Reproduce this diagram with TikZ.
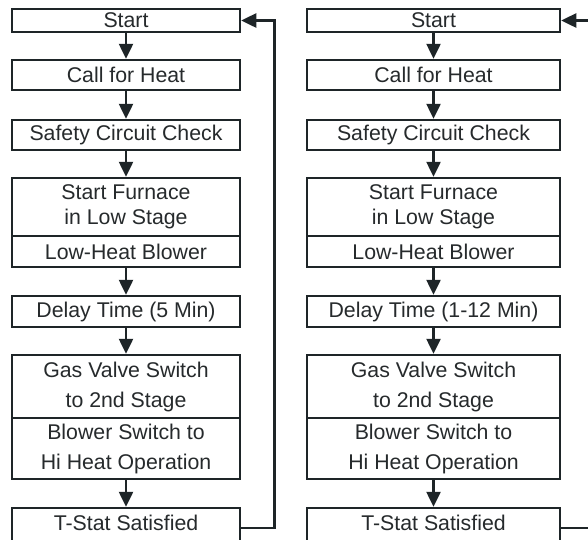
\documentclass[tikz,border=0pt]{standalone}
\usepackage{fontspec}
\setmainfont{Liberation Sans}
\usetikzlibrary{arrows.meta}
\definecolor{linec}{HTML}{1E2528}
\definecolor{textc}{HTML}{262A2C}
\begin{document}
\begin{tikzpicture}[x=1pt,y=-1pt,
  box/.style={draw=linec, line width=2.5pt, fill=white, text=textc, inner sep=0pt,
    font=\fontsize{21.3}{25}\selectfont, align=center},
  lcol/.style={box, minimum width=228pt},
  rcol/.style={box, minimum width=253pt},
  wide/.style={font=\fontsize{21.3}{30}\selectfont},
  lbl/.style={text=textc, font=\fontsize{21.3}{25}\selectfont, inner sep=0pt},
  arr/.style={draw=linec, line width=2.5pt, -{Triangle[width=14pt,length=15pt]}},
  lin/.style={draw=linec, line width=2.5pt}]
\clip (0,0) rectangle (588,539);
\fill[white] (0,0) rectangle (588,539);
% left column
\node[lcol, minimum height=23pt] (lstart) at (126,20.5) {Start};
\node[lcol, minimum height=30pt] (lcall) at (126,75) {Call for Heat};
\node[lcol, minimum height=30pt] (lsafe) at (126,135) {Safety Circuit Check};
\node[lcol, minimum height=58pt] (lfurn) at (126,207) {Start Furnace\\in Low Stage};
\node[lcol, minimum height=31pt] (llow) at (126,251.5) {Low-Heat Blower};
\node[lcol, minimum height=31pt] (ldelay) at (126,311.5) {Delay Time (5 Min)};
\node[lcol, wide, minimum height=63pt] (lgas) at (126,386.5) {Gas Valve Switch\\to 2nd Stage};
\node[lcol, wide, minimum height=61pt] (lblow) at (126,448.5) {Blower Switch to\\Hi Heat Operation};
\node[lcol, minimum height=40pt] (ltstat) at (126,528) {};
\node[lbl] (ltstattxt) at (126,523) {T-Stat Satisfied};
% right column
\node[rcol, minimum height=23pt] (rstart) at (433.5,20.5) {Start};
\node[rcol, minimum height=30pt] (rcall) at (433.5,75) {Call for Heat};
\node[rcol, minimum height=30pt] (rsafe) at (433.5,135) {Safety Circuit Check};
\node[rcol, minimum height=58pt] (rfurn) at (433.5,207) {Start Furnace\\in Low Stage};
\node[rcol, minimum height=31pt] (rlow) at (433.5,251.5) {Low-Heat Blower};
\node[rcol, minimum height=31pt] (rdelay) at (433.5,311.5) {Delay Time (1-12 Min)};
\node[rcol, wide, minimum height=63pt] (rgas) at (433.5,386.5) {Gas Valve Switch\\to 2nd Stage};
\node[rcol, wide, minimum height=61pt] (rblow) at (433.5,448.5) {Blower Switch to\\Hi Heat Operation};
\node[rcol, minimum height=40pt] (rtstat) at (433.5,528) {};
\node[lbl] (rtstattxt) at (433.5,523) {T-Stat Satisfied};
% vertical arrows
\foreach \c in {l,r}{
  \draw[arr] (\c start.south) -- (\c call.north);
  \draw[arr] (\c call.south) -- (\c safe.north);
  \draw[arr] (\c safe.south) -- (\c furn.north);
  \draw[arr] (\c low.south) -- (\c delay.north);
  \draw[arr] (\c delay.south) -- (\c gas.north);
  \draw[arr] (\c blow.south) -- (\c tstat.north);
}
% left loop
\coordinate (lloop) at (274.5,0);
\draw[arr] (ltstat.east) -| (lloop |- lstart.east) -- (lstart.east);
% right loop (off the edge)
\coordinate (rout) at (590,528);
\coordinate (rin) at (590,20.5);
\draw[lin] (rtstat.east) -- (rout);
\draw[arr] (rin) -- (rstart.east);
\end{tikzpicture}
\end{document}
